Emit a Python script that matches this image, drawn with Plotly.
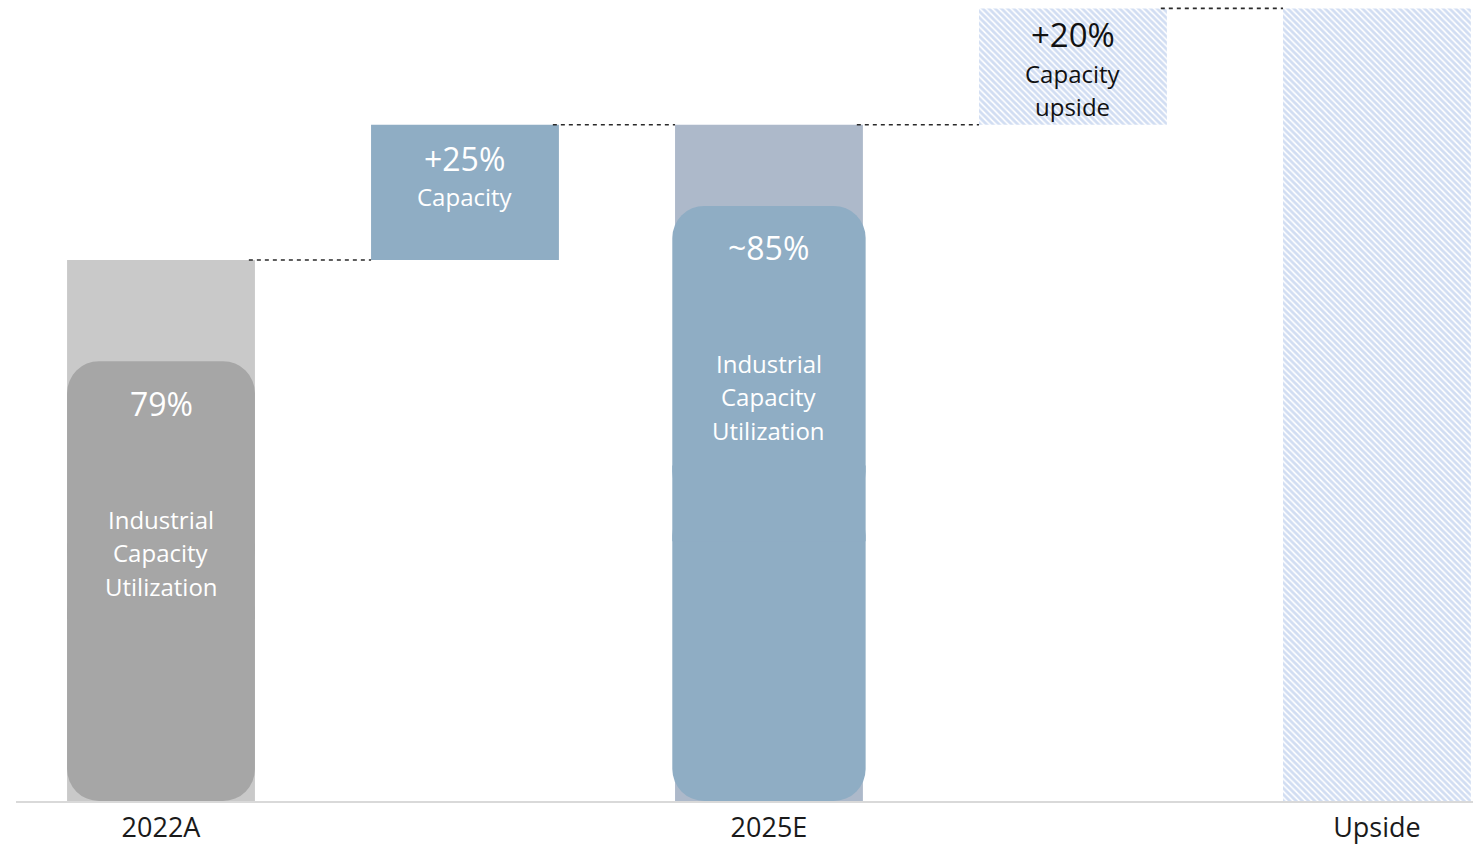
import plotly.graph_objects as go

# ---- data (index: 2022A capacity = 100) ----
categories = ["2022A", "+25%", "2025E", "+20%", "Upside"]
tick_labels = ["2022A", "", "2025E", "", "Upside"]
capacity_totals = {"2022A": 100, "2025E": 125, "Upside": 146.5}
increments = {"+25%": 25, "+20%": 21.5}
increment_bases = {"+25%": 100, "+20%": 125}
utilization_cats = ["2022A", "2025E"]
utilization_values = [81.3, 110]
utilization_labels = ["79%", "~85%"]

BAR_W = 0.618
FONT = "Open Sans, Noto Sans, sans-serif"

fig = go.Figure()

# outer (capacity) bars
fig.add_trace(go.Bar(x=["2022A"], y=[capacity_totals["2022A"]], base=[0],
                     width=BAR_W, marker=dict(color="#c9c9c9", line_width=0)))
fig.add_trace(go.Bar(x=["2025E"], y=[capacity_totals["2025E"]], base=[0],
                     width=BAR_W, marker=dict(color="#adb9ca", line_width=0)))
fig.add_trace(go.Bar(x=["+25%"], y=[increments["+25%"]], base=[increment_bases["+25%"]],
                     width=BAR_W, marker=dict(color="#8fadc4", line_width=0)))
hatch = dict(shape="\\", fgcolor="#a4bce6", bgcolor="white", size=4.4, solidity=0.62)
fig.add_trace(go.Bar(x=["+20%"], y=[increments["+20%"]], base=[increment_bases["+20%"]],
                     width=BAR_W, marker=dict(color="#a4bce6", line_width=0, pattern=hatch)))
fig.add_trace(go.Bar(x=["Upside"], y=[capacity_totals["Upside"]], base=[0],
                     width=BAR_W, marker=dict(color="#a4bce6", line_width=0, pattern=hatch)))

# inner rounded utilization bars: rounded top piece, rounded bottom piece, square middle filler
inner_colors = ["#a6a6a6", "#8fadc4"]
inner_widths = [BAR_W, 0.636]
halves = [v / 2 for v in utilization_values]
fig.add_trace(go.Bar(x=utilization_cats, y=halves, base=halves, width=inner_widths,
                     marker=dict(color=inner_colors, line_width=0, cornerradius=32)))
fig.add_trace(go.Bar(x=utilization_cats, y=[-h for h in halves], base=halves, width=inner_widths,
                     marker=dict(color=inner_colors, line_width=0, cornerradius=32)))
fig.add_trace(go.Bar(x=utilization_cats, y=[14] * 2,
                     base=[h - 7 for h in halves], width=inner_widths,
                     marker=dict(color=inner_colors, line_width=0)))

# dashed connectors between bar tops
connector_levels = [capacity_totals["2022A"], capacity_totals["2025E"],
                    capacity_totals["2025E"], capacity_totals["Upside"]]
for i, lvl in enumerate(connector_levels):
    fig.add_shape(type="line", xref="x", yref="y",
                  x0=i + BAR_W / 2 - 0.02, x1=i + 1 - BAR_W / 2, y0=lvl, y1=lvl,
                  line=dict(color="#2a2a2a", width=1.7, dash="4px,4px"), layer="above")

# labels inside bars
ann = []
def add(x, y, text, size, color):
    ann.append(dict(x=x, y=y, xref="x", yref="y", text=text, showarrow=False,
                    font=dict(family=FONT, size=size, color=color), align="center"))

LINE = 6.2  # line spacing in value units
desc = ["Industrial", "Capacity", "Utilization"]
add("2022A", 73.4, utilization_labels[0], 32, "white")
for j, t in enumerate(desc):
    add("2022A", 52.1 - j * LINE, t, 24, "white")
add("2025E", 102.4, utilization_labels[1], 32, "white")
for j, t in enumerate(desc):
    add("2025E", 80.9 - j * LINE, t, 24, "white")
add("+25%", 118.85, "+25%", 32, "white")
add("+25%", 111.65, "Capacity", 24, "white")
add("+20%", 141.6, "+20%", 33, "#111111")
add("+20%", 134.5, "Capacity", 24, "#111111")
add("+20%", 128.3, "upside", 24, "#111111")

fig.update_layout(
    width=1473, height=844,
    margin=dict(l=16, r=0, t=0, b=43),
    barmode="overlay",
    showlegend=False,
    plot_bgcolor="white", paper_bgcolor="white",
    annotations=ann,
    xaxis=dict(type="category", categoryorder="array", categoryarray=categories,
               range=[-0.477, 4.316], tickmode="array", tickvals=categories,
               ticktext=tick_labels, showline=True, linecolor="#d9d9d9", linewidth=2,
               showgrid=False, zeroline=False, ticks="", automargin=False,
               tickfont=dict(family=FONT, size=27, color="#1a1a1a"), ticklabelstandoff=2),
    yaxis=dict(range=[0, 148.06], visible=False, showgrid=False, zeroline=False),
)

fig.write_html("out.html", config={"displayModeBar": False},
               post_script="document.body.style.margin='0';")
